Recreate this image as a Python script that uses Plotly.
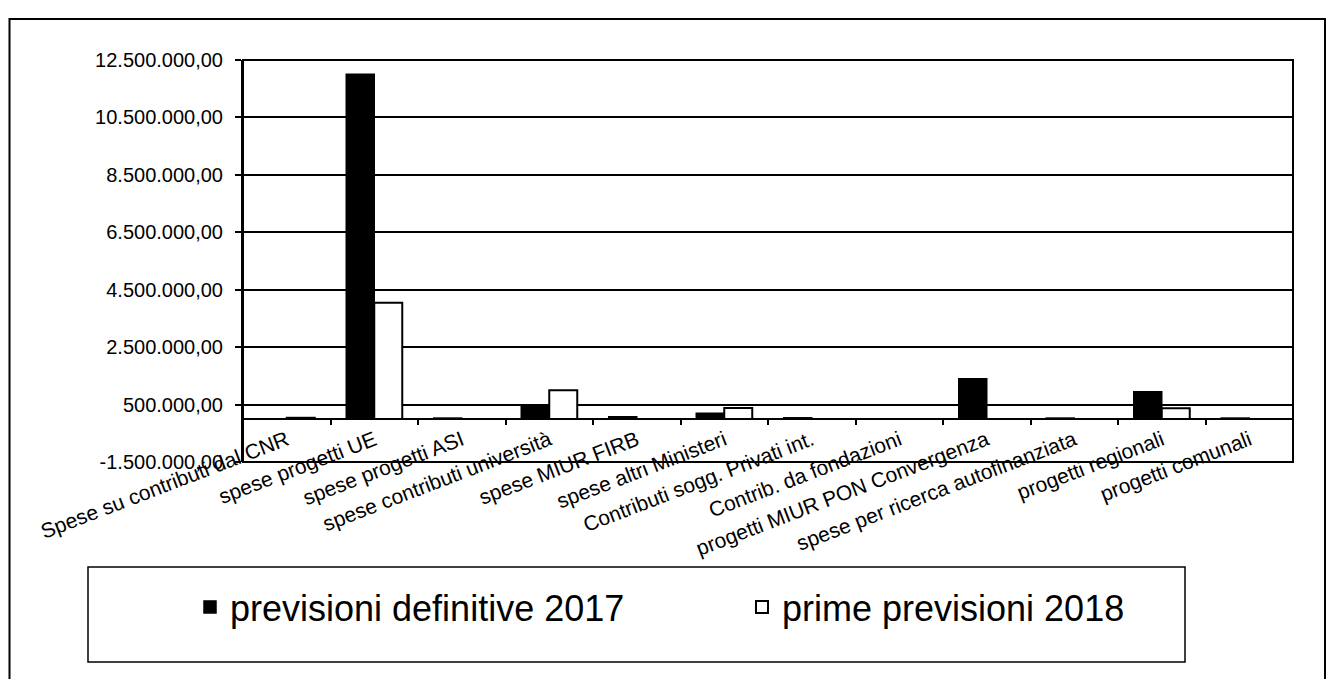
import plotly.graph_objects as go

categories = [
    "Spese su contributi dal CNR",
    "spese progetti UE",
    "spese progetti ASI",
    "spese contributi università",
    "spese MIUR FIRB",
    "spese altri Ministeri",
    "Contributi sogg. Privati int.",
    "Contrib. da fondazioni",
    "progetti MIUR PON Convergenza",
    "spese per ricerca autofinanziata",
    "progetti regionali",
    "progetti comunali",
]
prev_def_2017 = [0, 12000000, 30000, 450000, 80000, 200000, 40000, 0, 1400000, 30000, 950000, 30000]
prime_prev_2018 = [40000, 4050000, 0, 1000000, 0, 380000, 0, 0, 0, 0, 370000, 0]

y_tickvals = [-1500000, 500000, 2500000, 4500000, 6500000, 8500000, 10500000, 12500000]
y_ticktext = ["-1.500.000,00", "500.000,00", "2.500.000,00", "4.500.000,00",
              "6.500.000,00", "8.500.000,00", "10.500.000,00", "12.500.000,00"]
y_range = [-1500000, 12500000]

# page body has an 8px margin on every side: size the figure so it fits the window
OFF = 8
WIN_W, WIN_H = 1335, 687
W, H = WIN_W - 2 * OFF, WIN_H - 2 * OFF
L, R, T, B = 243, 1293, 60, 462  # plot area in window pixels

def px_x(p):
    return (p - L) / (R - L)

def px_y(p):
    return (B - p) / (B - T)

FONT = "Liberation Sans, Arial, sans-serif"

fig = go.Figure()
fig.add_trace(go.Bar(
    name="previsioni definitive 2017", x=categories, y=prev_def_2017,
    marker=dict(color="black", line=dict(color="black", width=1.5)),
))
fig.add_trace(go.Bar(
    name="prime previsioni 2018", x=categories, y=prime_prev_2018,
    marker=dict(color="white", line=dict(color="black", width=2)),
))

zero_pos = (0 - y_range[0]) / (y_range[1] - y_range[0])

fig.update_layout(
    width=W, height=H,
    margin=dict(l=L - OFF, r=OFF + W - R, t=T - OFF, b=OFF + H - B, autoexpand=False),
    paper_bgcolor="white", plot_bgcolor="white",
    barmode="group", bargap=0.36, bargroupgap=0,
    font=dict(family=FONT, color="black"),
    xaxis=dict(
        type="category", anchor="free", position=zero_pos,
        showline=True, linecolor="black", linewidth=2,
        ticks="outside", tickson="boundaries", ticklen=5, tickcolor="black", tickwidth=1.5,
        tickangle=-21, tickfont=dict(size=21, family=FONT, color="black"),
        showgrid=False, automargin=False,
    ),
    yaxis=dict(
        range=y_range, tickvals=y_tickvals, ticktext=y_ticktext,
        showgrid=True, gridcolor="black", gridwidth=1.5,
        zeroline=False, showline=True, linecolor="black", linewidth=2,
        ticks="outside", ticklen=6, tickcolor="black", tickwidth=1.5,
        tickfont=dict(size=20, family=FONT, color="black"),
        ticklabelstandoff=8,
        automargin=False,
    ),
    legend=dict(
        orientation="h", x=px_x(190), xanchor="left", y=px_y(607), yanchor="middle",
        entrywidth=507, entrywidthmode="pixels",
        font=dict(size=36, family=FONT, color="black"),
        bgcolor="rgba(0,0,0,0)", traceorder="normal",
    ),
    shapes=[
        dict(type="rect", xref="paper", yref="paper", x0=0, x1=1, y0=0, y1=1,
             line=dict(color="black", width=2), layer="above"),
        dict(type="rect", xref="paper", yref="paper", x0=px_x(OFF + 1.5), x1=px_x(OFF + W - 2),
             y0=px_y(720), y1=px_y(19), line=dict(color="black", width=2)),
        dict(type="rect", xref="paper", yref="paper", x0=px_x(88), x1=px_x(1185),
             y0=px_y(662), y1=px_y(567), line=dict(color="black", width=1.5)),
    ],
)

fig.write_html("out.html")
